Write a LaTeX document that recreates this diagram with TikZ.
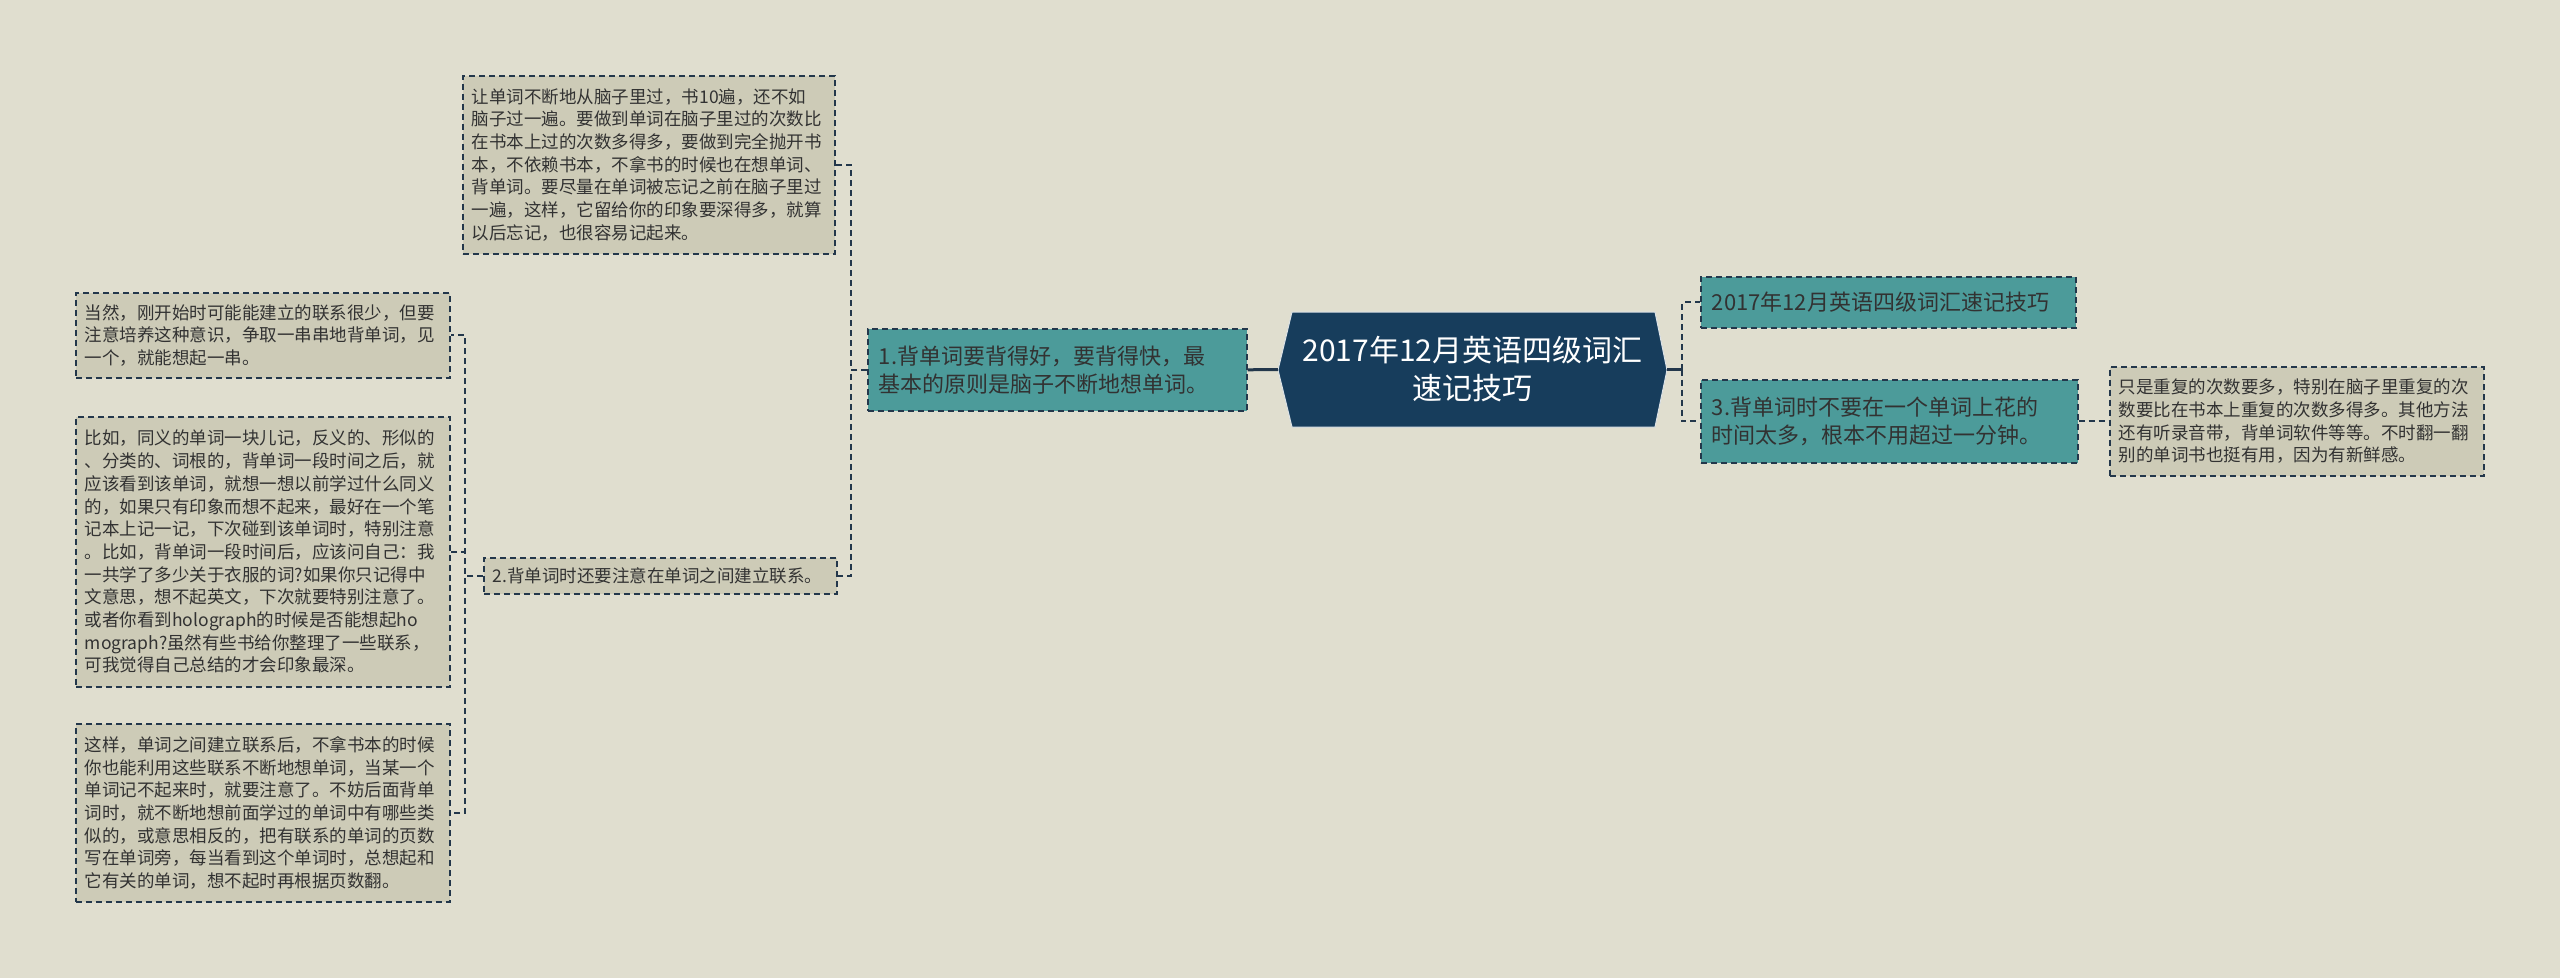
\documentclass[tikz,border=0pt]{standalone}
\usepackage{fontspec}
\setmainfont{Noto Sans CJK SC}
\definecolor{bgc}{RGB}{224,222,207}
\definecolor{leaff}{RGB}{205,203,183}
\definecolor{tealf}{RGB}{76,155,154}
\definecolor{navyf}{RGB}{23,61,92}
\definecolor{linec}{RGB}{35,55,75}
\definecolor{textc}{RGB}{50,50,50}
\tikzset{
  leafbox/.style={draw=linec, dash pattern=on 6pt off 4pt, line width=1.6pt,
    fill=leaff, text=textc, font=\fontsize{17.5}{22.7}\selectfont,
    align=left, inner xsep=9pt, inner ysep=0pt, anchor=north west},
  tealbox/.style={draw=linec, dash pattern=on 6pt off 4pt, line width=1.6pt,
    fill=tealf, text=textc, font=\fontsize{22}{28}\selectfont,
    align=left, inner xsep=11pt, inner ysep=0pt, anchor=north west},
  conn/.style={draw=linec, dash pattern=on 6pt off 4pt, line width=1.8pt},
  solidconn/.style={draw=linec, line width=3pt}
}
\begin{document}
\begin{tikzpicture}[x=1pt,y=-1pt]
\useasboundingbox (0,0) rectangle (2560,978);
\fill[bgc] (0,0) rectangle (2560,978);

% center hexagon
\fill[navyf, draw=white!85!navyf, line width=1pt]
  (1278,370) -- (1292,312) -- (1655,312) -- (1667,370) -- (1655,427) -- (1292,427) -- cycle;
\node[minimum width=389pt, minimum height=115pt, inner sep=0pt, align=center,
  text=white, font=\fontsize{30}{38}\selectfont] (c) at (1472.5,369.5)
  {2017年12月英语四级词汇\\速记技巧};

% left branch
\node[tealbox, text width=357pt, minimum height=82pt] (n1) at (867,328)
  {1.背单词要背得好，要背得快，最\\基本的原则是脑子不断地想单词。};

\node[leafbox, text width=354pt, minimum height=178pt] (t) at (462,75)
  {让单词不断地从脑子里过，书10遍，还不如\\
脑子过一遍。要做到单词在脑子里过的次数比\\
在书本上过的次数多得多，要做到完全抛开书\\
本，不依赖书本，不拿书的时候也在想单词、\\
背单词。要尽量在单词被忘记之前在脑子里过\\
一遍，这样，它留给你的印象要深得多，就算\\
以后忘记，也很容易记起来。};

\node[leafbox, text width=335pt, minimum height=36pt] (n2) at (483,557)
  {2.背单词时还要注意在单词之间建立联系。};

\node[leafbox, text width=356pt, minimum height=85pt] (a) at (75,292)
  {当然，刚开始时可能能建立的联系很少，但要\\
注意培养这种意识，争取一串串地背单词，见\\
一个，就能想起一串。};

\node[leafbox, text width=356pt, minimum height=270pt] (b) at (75,416)
  {比如，同义的单词一块儿记，反义的、形似的\\
、分类的、词根的，背单词一段时间之后，就\\
应该看到该单词，就想一想以前学过什么同义\\
的，如果只有印象而想不起来，最好在一个笔\\
记本上记一记，下次碰到该单词时，特别注意\\
。比如，背单词一段时间后，应该问自己：我\\
一共学了多少关于衣服的词?如果你只记得中\\
文意思，想不起英文，下次就要特别注意了。\\
或者你看到holograph的时候是否能想起ho\\
mograph?虽然有些书给你整理了一些联系，\\
可我觉得自己总结的才会印象最深。};

\node[leafbox, text width=356pt, minimum height=178pt] (cc) at (75,723)
  {这样，单词之间建立联系后，不拿书本的时候\\
你也能利用这些联系不断地想单词，当某一个\\
单词记不起来时，就要注意了。不妨后面背单\\
词时，就不断地想前面学过的单词中有哪些类\\
似的，或意思相反的，把有联系的单词的页数\\
写在单词旁，每当看到这个单词时，总想起和\\
它有关的单词，想不起时再根据页数翻。};

% right branch
\node[tealbox, text width=353pt, minimum height=51pt] (rt) at (1700,276)
  {2017年12月英语四级词汇速记技巧};
\node[tealbox, text width=355pt, minimum height=83pt] (n3) at (1700,379)
  {3.背单词时不要在一个单词上花的\\时间太多，根本不用超过一分钟。};
\node[leafbox, text width=356pt, minimum height=109pt] (r) at (2109,366)
  {只是重复的次数要多，特别在脑子里重复的次\\
数要比在书本上重复的次数多得多。其他方法\\
还有听录音带，背单词软件等等。不时翻一翻\\
别的单词书也挺有用，因为有新鲜感。};

% connectors
\draw[solidconn] (n1.east) -- (c.west);
\draw[conn] (n1.west) -- ++(-16,0) |- (t.east);
\draw[conn] (n1.west) -- ++(-16,0) |- (n2.east);
\draw[conn] (n2.west) -- ++(-18,0) |- (a.east);
\draw[conn] (n2.west) -- ++(-18,0) |- (b.east);
\draw[conn] (n2.west) -- ++(-18,0) |- (cc.east);
\draw[solidconn] (c.east) -- ++(15,0) coordinate (rj);
\draw[conn] (rj) |- (rt.west);
\draw[conn] (rj) |- (n3.west);
\draw[conn] (n3.east) -- (r.west);
\end{tikzpicture}
\end{document}
